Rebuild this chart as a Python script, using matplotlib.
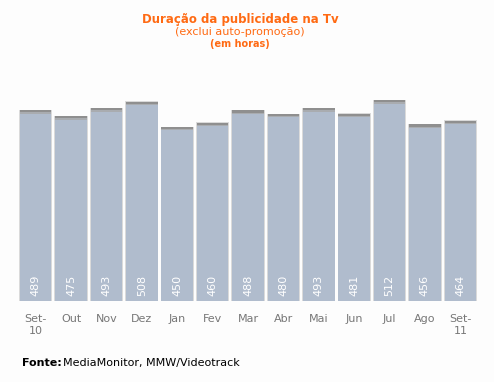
import matplotlib.pyplot as plt
import numpy as np

months = ['Set-\n10', 'Out', 'Nov', 'Dez', 'Jan', 'Fev', 'Mar', 'Abr', 'Mai', 'Jun', 'Jul', 'Ago', 'Set-\n11']
hours = [489, 475, 493, 508, 450, 460, 488, 480, 493, 481, 512, 456, 464]

fig = plt.figure(figsize=(4.94, 3.82), dpi=100)
fig.patch.set_facecolor('#fdfdfd')
ax = fig.add_axes([18/494, 81/382, 460/494, 240/382])
ax.set_facecolor('#fdfdfd')

x = np.arange(len(hours))
y0 = 50
# shadow, bar, grey cap
ax.bar(x, np.array(hours) - y0 + 1, bottom=y0, width=0.94, color='#dadada', zorder=1)
ax.bar(x, np.array(hours) - y0, bottom=y0, width=0.89, color='#b0bccd', zorder=2)
ax.bar(x, 5, bottom=np.array(hours) - 5, width=0.89, color='#8f8f8f', zorder=3)
ax.bar(x, 3, bottom=np.array(hours) - 8, width=0.89, color='#a9acb0', zorder=3)

for i, v in enumerate(hours):
    ax.text(i, y0 + 36, str(v), rotation=90, ha='center', va='center', color='white', fontsize=8, zorder=4)

ax.set_xlim(-0.5, len(hours) - 0.5)
ax.set_ylim(y0, y0 + 240 / 0.435)
ax.axis('off')

for i, m in enumerate(months):
    fig.text((18 + 35.4 * (i + 0.5)) / 494, 1 - 314 / 382, m, ha='center', va='top',
             color='#777777', fontsize=8, linespacing=1.2)

fig.text(240/494, 1 - 19/382, 'Duração da publicidade na Tv', ha='center', va='center',
         color='#ff6a13', fontsize=8.5, fontweight='bold')
fig.text(240/494, 1 - 32/382, '(exclui auto-promoção)', ha='center', va='center',
         color='#ff6a13', fontsize=8)
fig.text(240/494, 1 - 44/382, '(em horas)', ha='center', va='center',
         color='#ff6a13', fontsize=7, fontweight='bold')

fig.text(22/494, 1 - 363/382, 'Fonte:', ha='left', va='center', color='black',
         fontsize=8, fontweight='bold')
fig.text(63/494, 1 - 363/382, 'MediaMonitor, MMW/Videotrack', ha='left', va='center',
         color='black', fontsize=8)

fig.savefig('out.png', dpi=100, facecolor=fig.get_facecolor())
